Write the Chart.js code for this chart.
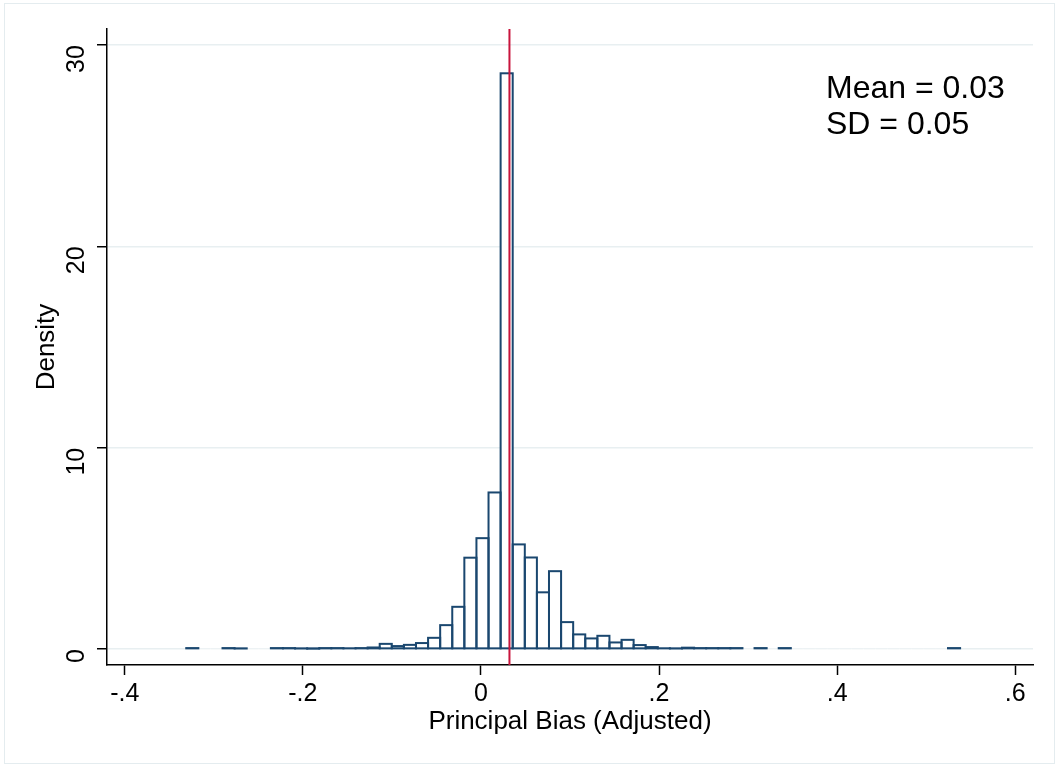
<!DOCTYPE html>
<html>
<head>
<meta charset="utf-8">
<script src="https://cdn.jsdelivr.net/npm/chart.js@4.4.0/dist/chart.umd.min.js"></script>
<style>
  html, body { margin: 0; padding: 0; background: #fff; }
  #wrap { position: relative; width: 1059px; height: 767px; }
  #frame { position: absolute; left: 4px; top: 3px; width: 1049px; height: 759px; border: 1px solid #e4ecef; }
  canvas { position: absolute; left: 0; top: 0; }
</style>
</head>
<body>
<div id="wrap">
  <div id="frame"></div>
  <canvas id="histCanvas" width="1059" height="767"></canvas>
</div>
<script>
// histogram bins (density per bin)
const binStart = -0.331;
const binWidth = 0.01358;
const densities = [
  0.05, 0, 0, 0.05, 0.03, 0, 0, 0.05, 0.05, 0.03,
  0.02, 0.05, 0.05, 0.04, 0.05, 0.08, 0.26, 0.15, 0.21, 0.30,
  0.56, 1.19, 2.10, 4.54, 5.51, 7.78, 28.6, 5.20, 4.55, 2.82,
  3.87, 1.34, 0.73, 0.53, 0.66, 0.33, 0.46, 0.20, 0.10, 0.04,
  0.03, 0.07, 0.05, 0.05, 0.05, 0.05, 0, 0.05, 0, 0.05,
  0, 0, 0, 0, 0, 0, 0, 0, 0, 0,
  0, 0, 0, 0.05
];
const meanValue = 0.032;
const sdValue = 0.05;

const xTicks = [-0.4, -0.2, 0, 0.2, 0.4, 0.6];
const xTickLabels = ['-.4', '-.2', '0', '.2', '.4', '.6'];
const yTicks = [0, 10, 20, 30];
const xMin = -0.42, xMax = 0.62;
const yMin = -0.79, yMax = 30.8;

const navy = '#1a476f';
const FONT = '"Liberation Sans", Arial, Helvetica, sans-serif';

const barPoints = densities.map((d, i) => ({ x: binStart + (i + 0.5) * binWidth, y: d }));

// Stata style outline: stroke centred on the bar edges, all four sides
const barOutline = {
  id: 'barOutline',
  afterDatasetDraw(chart, args) {
    if (args.index !== 0) return;
    const ctx = chart.ctx;
    const area = chart.chartArea;
    ctx.save();
    ctx.beginPath();
    ctx.rect(area.left, area.top, area.right - area.left, area.bottom - area.top);
    ctx.clip();
    ctx.strokeStyle = navy;
    ctx.lineWidth = 2;
    args.meta.data.forEach((bar, i) => {
      if (!densities[i]) return;
      const p = bar.getProps(['x', 'y', 'base', 'width'], true);
      ctx.strokeRect(p.x - p.width / 2, p.y, p.width, p.base - p.y);
    });
    ctx.restore();
  }
};

const statsText = {
  id: 'statsText',
  afterDraw(chart) {
    const ctx = chart.ctx;
    ctx.save();
    ctx.font = '32px ' + FONT;
    ctx.fillStyle = '#000';
    ctx.textBaseline = 'alphabetic';
    ctx.fillText('Mean = ' + meanValue.toFixed(2), 826, 98);
    ctx.fillText('SD = ' + sdValue.toFixed(2), 826, 134);
    ctx.restore();
  }
};

const ctx = document.getElementById('histCanvas').getContext('2d');

new Chart(ctx, {
  type: 'bar',
  data: {
    datasets: [
      {
        type: 'bar',
        data: barPoints,
        backgroundColor: '#ffffff',
        borderWidth: 0,
        barPercentage: 1,
        categoryPercentage: 1,
        order: 2
      },
      {
        type: 'line',
        data: [{ x: meanValue, y: yMin }, { x: meanValue, y: yMax }],
        borderColor: '#c8143c',
        borderWidth: 2,
        pointRadius: 0,
        order: 1
      }
    ]
  },
  options: {
    responsive: false,
    animation: false,
    devicePixelRatio: 1,
    layout: { padding: { top: 29, right: 26, left: 0, bottom: 0 } },
    plugins: {
      legend: { display: false },
      tooltip: { enabled: false }
    },
    scales: {
      x: {
        type: 'linear',
        min: xMin,
        max: xMax,
        offset: false,
        afterBuildTicks: s => { s.ticks = xTicks.map(v => ({ value: v })); },
        afterFit: s => { s.height = 102; s.paddingLeft = 0; s.paddingRight = 0; },
        border: { color: '#000', width: 1.5 },
        grid: { offset: false, drawOnChartArea: false, tickColor: '#000', tickLength: 10, tickWidth: 1.5 },
        ticks: {
          color: '#000',
          font: { size: 25, family: FONT },
          padding: 4,
          maxRotation: 0,
          callback: (v) => xTickLabels[xTicks.indexOf(v)]
        },
        title: {
          display: true,
          text: 'Principal Bias (Adjusted)',
          color: '#000',
          font: { size: 26, family: FONT },
          padding: { top: 0, bottom: 30 }
        }
      },
      y: {
        type: 'linear',
        min: yMin,
        max: yMax,
        afterBuildTicks: s => { s.ticks = yTicks.map(v => ({ value: v })); },
        afterFit: s => { s.width = 107; s.paddingTop = 0; s.paddingBottom = 0; },
        border: { color: '#000', width: 1.5 },
        grid: { color: '#e8eff1', lineWidth: 1.5, tickColor: '#000', tickLength: 10, tickWidth: 1.5 },
        ticks: {
          color: '#000',
          font: { size: 25, family: FONT },
          minRotation: 90,
          maxRotation: 90,
          padding: 20
        },
        title: {
          display: true,
          text: 'Density',
          color: '#000',
          font: { size: 26, family: FONT },
          padding: { top: 31, bottom: 0 }
        }
      }
    }
  },
  plugins: [barOutline, statsText]
});
</script>
</body>
</html>
